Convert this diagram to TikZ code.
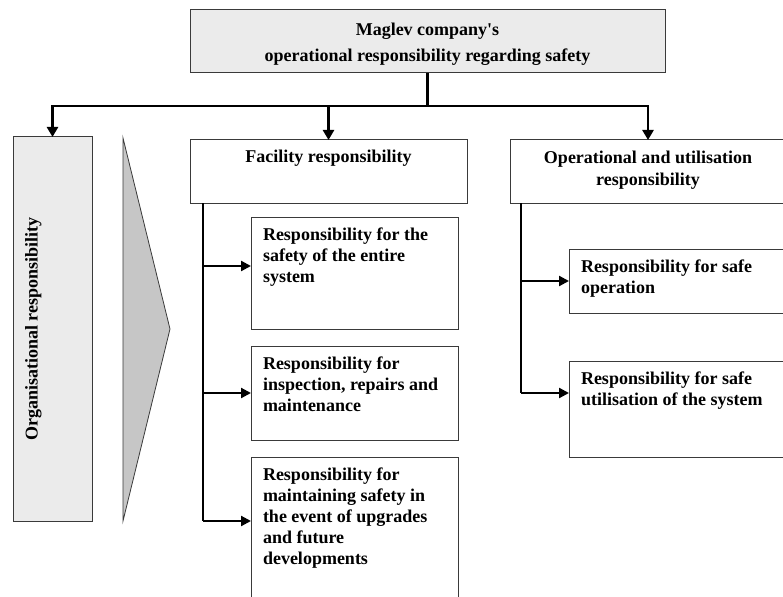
\documentclass[tikz,border=0pt]{standalone}
\usepackage{fontspec}
\setmainfont{Liberation Serif}
\usetikzlibrary{arrows.meta}
\definecolor{edgegray}{HTML}{3A3A3A}
\definecolor{lightfill}{HTML}{EBEBEB}
\definecolor{trifill}{HTML}{C6C6C6}
\newcommand{\lefttext}[1]{\parbox[t]{196pt}{\raggedright\fontsize{18}{21}\selectfont\bfseries #1}}
\newcommand{\centertext}[3]{\parbox[t]{#1}{\centering\fontsize{18}{#2}\selectfont\bfseries #3}}
\begin{document}
\begin{tikzpicture}[x=1pt,y=-1pt,
  box/.style={draw=edgegray, line width=1pt, inner sep=0pt, outer sep=0pt, anchor=north west},
  txt/.style={inner sep=0pt, outer sep=0pt, anchor=base west},
  ctxt/.style={inner sep=0pt, outer sep=0pt, anchor=base},
  busarrow/.style={line width=2.8pt, -{Triangle[length=10pt,width=11pt]}},
  stub/.style={line width=2.2pt, -{Triangle[length=10pt,width=10pt]}},
  branch/.style={line width=1.2pt}]
\useasboundingbox (0,0) rectangle (783,596);
\clip (0,0) rectangle (783,596);

% boxes
\node[box, fill=lightfill, minimum width=475pt, minimum height=63pt] (top) at (190,10) {};
\node[box, fill=lightfill, minimum width=79pt, minimum height=384pt] (org) at (13,137) {};
\node[box, minimum width=277pt, minimum height=63pt] (fac) at (190,140) {};
\node[box, minimum width=276pt, minimum height=63pt] (op) at (510,140) {};
\node[box, minimum width=207pt, minimum height=112pt] (b1) at (251,217) {};
\node[box, minimum width=207pt, minimum height=94pt] (b2) at (251,346) {};
\node[box, minimum width=207pt, minimum height=160pt] (b3) at (251,457) {};
\node[box, minimum width=217pt, minimum height=64pt] (op1) at (569,249) {};
\node[box, minimum width=217pt, minimum height=96pt] (op2) at (569,361) {};

% triangle
\draw[draw=edgegray, line width=0.8pt, fill=trifill] (123,138) -- (170,329) -- (123,521) -- cycle;

% texts
\node[ctxt] (toptext) at (427.5,36) {\centertext{460pt}{26}{Maglev company\textquotesingle s\\operational responsibility regarding safety}};
\node[ctxt] (factext) at (328.5,163) {\centertext{260pt}{21}{Facility responsibility}};
\node[ctxt] (optext) at (648,164) {\centertext{260pt}{21}{Operational and utilisation\\responsibility}};
\node[txt] (b1text) at (263,240) {\lefttext{Responsibility for the\\safety of the entire\\system}};
\node[txt] (b2text) at (263,369) {\lefttext{Responsibility for\\inspection, repairs and\\maintenance}};
\node[txt] (b3text) at (263,480) {\lefttext{Responsibility for\\maintaining safety in\\the event of upgrades\\and future\\developments}};
\node[txt] (op1text) at (581,272) {\lefttext{Responsibility for safe\\operation}};
\node[txt] (op2text) at (581,384) {\lefttext{Responsibility for safe\\utilisation of the system}};
\node[rotate=90, anchor=base, inner sep=0pt] (orgtext) at (37.5,329) {\fontsize{18}{21}\selectfont\bfseries Organisational responsibility};

% bus connectors
\coordinate (bus) at (0,106);
\draw[busarrow] (top.south) -- (top.south |- bus) -| (org.north);
\draw[busarrow] (top.south |- bus) -| (op.north);
\draw[busarrow] (fac.north |- bus) -- (fac.north);

% facility branch
\coordinate (fb) at ([xshift=13pt]fac.south west);
\path (b1.north west) ++(0,49) coordinate (a1);
\coordinate (a2) at (b2.west);
\path (b3.north west) ++(0,64) coordinate (a3);
\draw[branch] (fb) -- (fb |- a3);
\draw[stub] (fb |- a1) -- (a1);
\draw[stub] (fb |- a2) -- (a2);
\draw[stub] (fb |- a3) -- (a3);

% operational branch
\coordinate (ob) at ([xshift=11pt]op.south west);
\coordinate (a4) at (op1.west);
\path (op2.north west) ++(0,32) coordinate (a5);
\draw[branch] (ob) -- (ob |- a5);
\draw[stub] (ob |- a4) -- (a4);
\draw[stub] (ob |- a5) -- (a5);
\end{tikzpicture}
\end{document}
